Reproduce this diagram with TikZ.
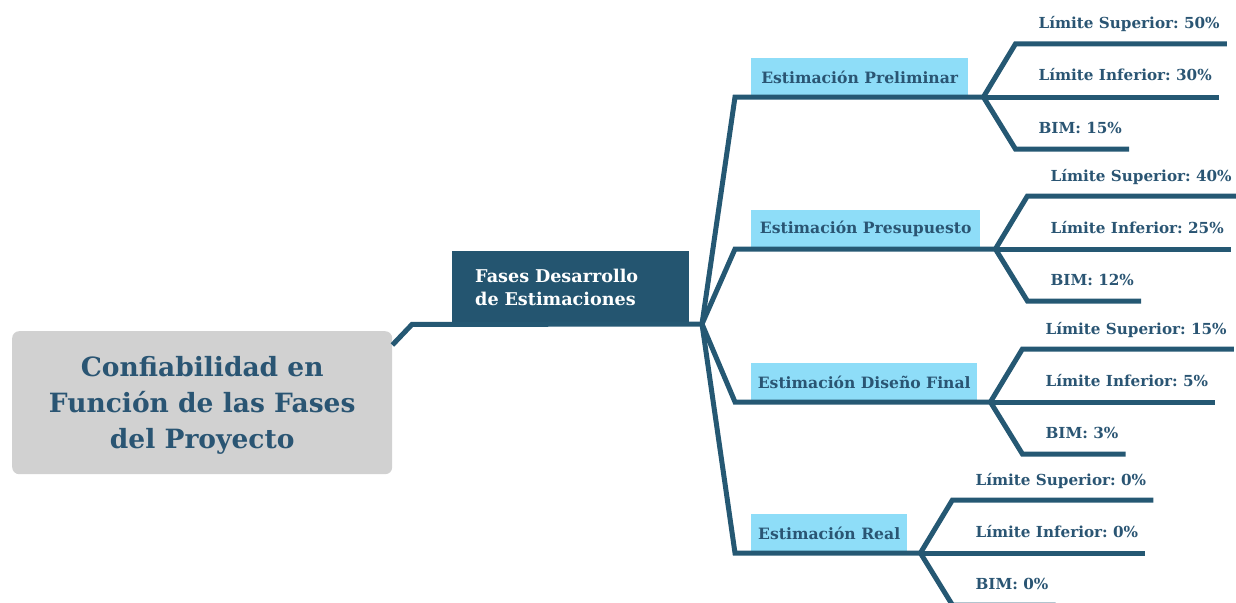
\documentclass[tikz,border=0pt]{standalone}
\usepackage{fontspec}
\setmainfont{DejaVu Serif}
\usetikzlibrary{calc}
\frenchspacing
\definecolor{linec}{HTML}{255873}
\definecolor{darkbox}{HTML}{245570}
\definecolor{lightbox}{HTML}{8EDDF8}
\definecolor{rootfill}{HTML}{D1D1D1}
\definecolor{txtc}{HTML}{2A5573}
\tikzset{
  conn/.style={draw=linec, line width=5pt, line join=miter, line cap=butt},
  rootbox/.style={fill=rootfill, rounded corners=7pt, minimum width=380pt, minimum height=143pt,
    text=txtc, align=center, font=\fontsize{26.5}{36}\selectfont\bfseries, anchor=north west,
    inner xsep=0pt, inner ysep=0pt, text depth=-6pt},
  fasebox/.style={fill=darkbox, text=white, minimum width=237pt, minimum height=73pt,
    inner xsep=23pt, align=left, font=\fontsize{17.6}{23}\selectfont\bfseries, anchor=north west},
  phasebox/.style={fill=lightbox, text=txtc, minimum height=39pt, inner xsep=0pt,
    font=\fontsize{15.6}{17}\selectfont\bfseries, anchor=south west},
  leaf/.style={text=txtc, inner sep=0pt, anchor=base west, font=\fontsize{15.2}{17}\selectfont\bfseries},
}
\begin{document}
\begin{tikzpicture}[x=1pt,y=-1pt]
\clip (0,0) rectangle (1236,602);
\useasboundingbox (0,0) rectangle (1236,602);

% central topic and first level
\node[rootbox] (root) at (12,331) {Confiabilidad en\\Función de las Fases\\del Proyecto};
\node[fasebox, text width=191pt] (fases) at (452,251) {Fases Desarrollo\\de Estimaciones};
\coordinate (hub) at (702,324);
\draw[conn] ($(root.north east)+(0,14)$) -- ($(fases.south west)+(-40,0)$) -- (fases.south west) -- (hub);

% phase boxes
\node[phasebox, minimum width=217pt] (p1) at (751,97) {Estimación Preliminar};
\node[phasebox, minimum width=229pt] (p2) at (751,249) {Estimación Presupuesto};
\node[phasebox, minimum width=226pt] (p3) at (751,402) {Estimación Diseño Final};
\node[phasebox, minimum width=156pt] (p4) at (751,553) {Estimación Real};

% leaf texts and connectors, one block per phase
\foreach \p/\gap/\a/\b/\c in {
  p1/15/{Límite Superior: 50\%}/{Límite Inferior: 30\%}/{BIM: 15\%},
  p2/15/{Límite Superior: 40\%}/{Límite Inferior: 25\%}/{BIM: 12\%},
  p3/13/{Límite Superior: 15\%}/{Límite Inferior: 5\%}/{BIM: 3\%},
  p4/13/{Límite Superior: 0\%}/{Límite Inferior: 0\%}/{BIM: 0\%}}{
  \coordinate (\p j) at ($(\p.south east)+(\gap,0)$);
  \coordinate (\p up) at ($(\p j)+(32,-53)$);
  \coordinate (\p dn) at ($(\p j)+(32,52)$);
  \node[leaf] (\p a) at ($(\p j)+(55,-68)$) {\a};
  \node[leaf] (\p b) at ($(\p j)+(55,-16)$) {\b};
  \node[leaf] (\p c) at ($(\p j)+(55,36)$) {\c};
  \draw[conn] (hub) -- ($(\p.south west)+(-16,0)$) -- (\p.south east) -- (\p j);
  \draw[conn] (\p j) -- (\p up) -- ($(\p a.east |- \p up)+(7,0)$);
  \draw[conn] (\p j) -- ($(\p b.east |- \p j)+(7,0)$);
  \draw[conn] (\p j) -- (\p dn) -- ($(\p c.east |- \p dn)+(7,0)$);
}
\end{tikzpicture}
\end{document}
